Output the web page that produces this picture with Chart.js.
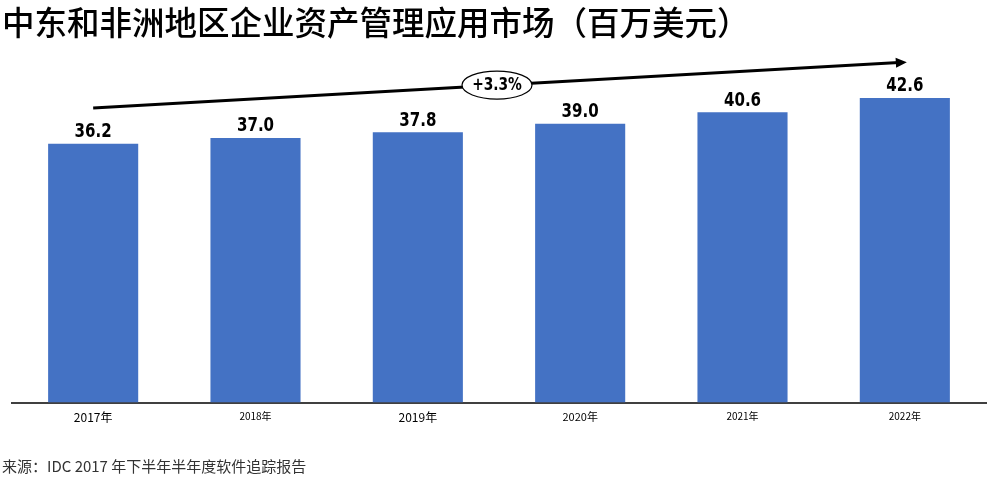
<!DOCTYPE html>
<html>
<head>
<meta charset="utf-8">
<script src="https://cdn.jsdelivr.net/npm/chart.js@4/dist/chart.umd.min.js"></script>
<style>
  html, body { margin: 0; padding: 0; background: #fff; }
  #wrap { width: 996px; height: 481px; }
</style>
</head>
<body>
<div id="wrap"><canvas id="eam"></canvas></div>
<script>
    // categories and values
    const years = ["2017年", "2018年", "2019年", "2020年", "2021年", "2022年"];
    const market = [36.2, 37.0, 37.8, 39.0, 40.6, 42.6];

    // growth arrow: value level at first and last bar, plus its label
    const trendLevels = [41.2, 47.6];
    const trendLabel = "+3.3%";

    const cjk = "'Noto Sans CJK SC', 'Noto Sans', sans-serif";
    const narrow = "'Liberation Sans Narrow', 'DejaVu Sans Condensed', 'Liberation Sans', sans-serif";
    // label sizes differ a bit in the original
    const tickSizes = [12, 10, 12, 11, 10, 10];

    // numbers on top of each bar
    const valueLabels = {
        id: "valueLabels",
        afterDatasetsDraw(chart) {
            const ctx = chart.ctx;
            const meta = chart.getDatasetMeta(0);
            ctx.save();
            ctx.font = "bold 19px " + narrow;
            ctx.fillStyle = "#000";
            ctx.textAlign = "center";
            ctx.textBaseline = "bottom";
            meta.data.forEach(function (bar, i) {
                ctx.save();
                ctx.translate(bar.x, bar.y - 2);
                ctx.scale(0.88, 1);
                ctx.fillText(market[i].toFixed(1), 0, 0);
                ctx.restore();
            });
            ctx.restore();
        }
    };

    // the CAGR arrow with its ellipse label
    const trendArrow = {
        id: "trendArrow",
        afterDatasetsDraw(chart) {
            const ctx = chart.ctx;
            const x = chart.scales.x, y = chart.scales.y;
            const x0 = x.getPixelForValue(0), x1 = x.getPixelForValue(years.length - 1) + 2;
            const y0 = y.getPixelForValue(trendLevels[0]), y1 = y.getPixelForValue(trendLevels[1]);
            const ang = Math.atan2(y1 - y0, x1 - x0);

            ctx.save();
            ctx.strokeStyle = "#000";
            ctx.fillStyle = "#000";
            ctx.lineWidth = 3;
            ctx.beginPath();
            ctx.moveTo(x0, y0);
            ctx.lineTo(x1 - 8 * Math.cos(ang), y1 - 8 * Math.sin(ang));
            ctx.stroke();

            // arrow head
            ctx.beginPath();
            ctx.moveTo(x1, y1);
            ctx.lineTo(x1 - 11 * Math.cos(ang) + 5 * Math.sin(ang), y1 - 11 * Math.sin(ang) - 5 * Math.cos(ang));
            ctx.lineTo(x1 - 11 * Math.cos(ang) - 5 * Math.sin(ang), y1 - 11 * Math.sin(ang) + 5 * Math.cos(ang));
            ctx.closePath();
            ctx.fill();

            // ellipse in the middle
            const cx = (x0 + x1) / 2 - 3, cy = (y0 + y1) / 2;
            ctx.beginPath();
            ctx.ellipse(cx, cy, 35, 14, 0, 0, Math.PI * 2);
            ctx.fillStyle = "#fff";
            ctx.fill();
            ctx.lineWidth = 1.2;
            ctx.stroke();

            ctx.fillStyle = "#000";
            ctx.font = "bold 17px " + narrow;
            ctx.textAlign = "center";
            ctx.textBaseline = "middle";
            ctx.translate(cx, cy + 1);
            ctx.scale(0.9, 1);
            ctx.fillText(trendLabel, 0, 0);
            ctx.restore();
        }
    };

    new Chart("eam", {
        type: "bar",
        data: {
            labels: years,
            datasets: [{
                data: market,
                backgroundColor: "#4472C4",
                barPercentage: 0.555,
                categoryPercentage: 1.0
            }]
        },
        options: {
            responsive: true,
            maintainAspectRatio: false,
            animation: false,
            layout: {
                padding: { left: 2, right: 10, top: 0, bottom: 0 }
            },
            plugins: {
                legend: { display: false },
                tooltip: { enabled: false },
                title: {
                    display: true,
                    text: "中东和非洲地区企业资产管理应用市场（百万美元）",
                    align: "start",
                    color: "#000",
                    font: { family: cjk, size: 32.5, weight: "500", lineHeight: 1.2 },
                    padding: { top: 3, bottom: 3 }
                },
                subtitle: {
                    display: true,
                    position: "bottom",
                    text: "来源：IDC 2017 年下半年半年度软件追踪报告",
                    align: "start",
                    color: "#333",
                    font: { family: cjk, size: 15, lineHeight: 1.2 },
                    padding: { top: 24, bottom: 6 }
                }
            },
            scales: {
                x: {
                    grid: { display: false, drawTicks: false },
                    border: { display: true, color: "#404040", width: 2 },
                    ticks: {
                        color: "#000",
                        padding: 8,
                        maxRotation: 0,
                        font: function (c) {
                            return { family: cjk, size: tickSizes[c.index] || 11 };
                        }
                    }
                },
                y: {
                    min: 0,
                    max: 50,
                    grid: { display: false, drawTicks: false },
                    border: { display: false },
                    ticks: { display: false },
                    afterFit: function (s) { s.width = 10; }
                }
            }
        },
        plugins: [valueLabels, trendArrow]
    });
</script>
</body>
</html>
